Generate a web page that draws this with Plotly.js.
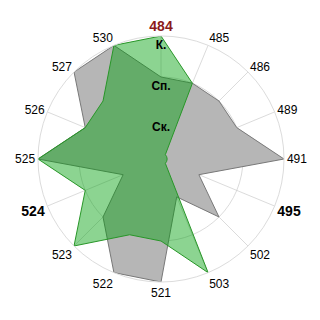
<!DOCTYPE html>
<html><head><meta charset="utf-8">
<script src="https://cdn.plot.ly/plotly-3.0.1.min.js"></script>
<style>html,body{margin:0;padding:0;background:#fff}#c{width:320px;height:320px}</style>
</head><body><div id="c"></div>
<script>
const categories = ['484','485','486','489','491','495','502','503','521','522','523','524','525','526','527','530'];
const tickLabels = [
  '<span style="color:#8b1a1a;font-size:14px"><b>484</b></span>','485','486','489','491',
  '<span style="font-size:14px"><b>495</b></span>','502','503','521','522','523',
  '<span style="font-size:14px"><b>524</b></span>','525','526','527','530'];
const greySeries  = [2,2,2,2,3,1,2,1,3,3,2,1,3,2,3,3];
const greenSeries = [3,2,0.15,0.15,0.15,0.15,0.15,3,2,2,3,2,3,2,2,3];
const levelLabels = ['Ск.','Сп.','К.'];
const levelPos = [0.75,1.75,2.75];

const close = a => a.concat([a[0]]);
const data = [
  {type:'scatterpolar', r: close(greySeries), theta: close(categories), mode:'lines', fill:'toself',
   fillcolor:'rgb(182,182,182)', line:{color:'rgb(120,120,120)', width:1}, hoverinfo:'skip'},
  {type:'scatterpolar', r: close(greenSeries), theta: close(categories), mode:'lines', fill:'toself',
   fillcolor:'rgba(0,160,10,0.45)', line:{color:'rgb(40,150,40)', width:1}, hoverinfo:'skip'},
  {type:'scatterpolar', r: levelPos, theta: levelPos.map(()=>categories[0]), mode:'text', text: levelLabels,
   textfont:{family:'Liberation Sans, Arial', size:12, color:'#000'}, texttemplate:'<b>%{text}</b>', hoverinfo:'skip'}
];
const layout = {
  width:320, height:320, showlegend:false,
  margin:{l:38, r:36, t:36, b:38},
  paper_bgcolor:'#fff', plot_bgcolor:'#fff',
  font:{family:'Liberation Sans, Arial', size:12, color:'#000'},
  polar:{
    bgcolor:'rgba(0,0,0,0)',
    domain:{x:[0,1], y:[0,1]},
    radialaxis:{range:[0,3], dtick:1, showticklabels:false, ticks:'', showline:false,
      gridcolor:'rgba(190,190,190,0.55)', layer:'above traces'},
    angularaxis:{type:'category', categoryarray:categories, direction:'clockwise', rotation:90,
      tickmode:'array', tickvals:categories, ticktext:tickLabels, ticks:'',
      gridcolor:'rgba(190,190,190,0.55)', linecolor:'rgb(220,220,220)', linewidth:1, layer:'above traces',
      tickfont:{family:'Liberation Sans, Arial', size:12, color:'#000'}}
  }
};
Plotly.newPlot('c', data, layout, {staticPlot:true, displayModeBar:false});
</script></body></html>
